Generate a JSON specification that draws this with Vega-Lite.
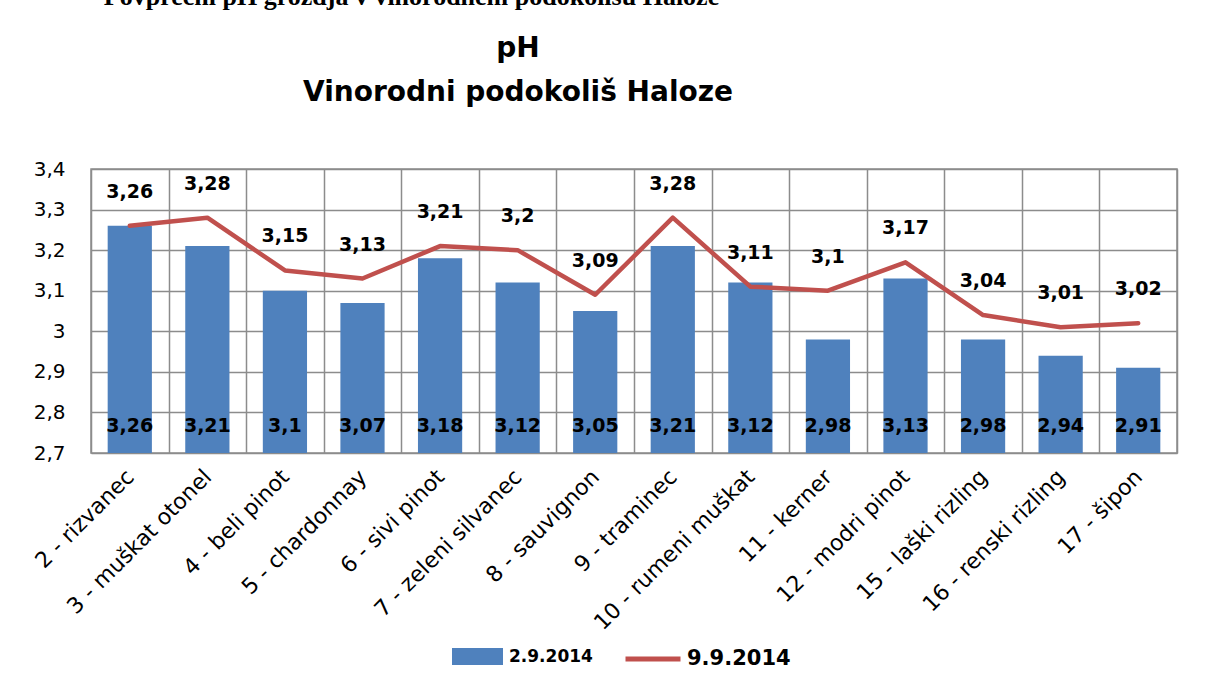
{
  "$schema": "https://vega.github.io/schema/vega-lite/v6.json",
  "width": 1086,
  "height": 284,
  "autosize": {"type": "none"},
  "padding": {"left": 91, "top": 169, "right": 31, "bottom": 239},
  "background": "white",
  "title": {
    "text": ["pH", "Vinorodni podokoliš Haloze"],
    "font": "DejaVu Sans",
    "fontSize": 28,
    "fontWeight": "bold",
    "color": "black",
    "lineHeight": 44,
    "anchor": "middle",
    "frame": "group",
    "dx": -116,
    "dy": 184,
    "offset": 60
  },
  "data": {
    "values": [
      {"sorta": "2 - rizvanec", "b": 3.26, "l": 3.26},
      {"sorta": "3 - muškat otonel", "b": 3.21, "l": 3.28},
      {"sorta": "4 - beli pinot", "b": 3.10, "l": 3.15},
      {"sorta": "5 - chardonnay", "b": 3.07, "l": 3.13},
      {"sorta": "6 - sivi pinot", "b": 3.18, "l": 3.21},
      {"sorta": "7 - zeleni silvanec", "b": 3.12, "l": 3.20},
      {"sorta": "8 - sauvignon", "b": 3.05, "l": 3.09},
      {"sorta": "9 - traminec", "b": 3.21, "l": 3.28},
      {"sorta": "10 - rumeni muškat", "b": 3.12, "l": 3.11},
      {"sorta": "11 - kerner", "b": 2.98, "l": 3.10},
      {"sorta": "12 - modri pinot", "b": 3.13, "l": 3.17},
      {"sorta": "15 - laški rizling", "b": 2.98, "l": 3.04},
      {"sorta": "16 - renski rizling", "b": 2.94, "l": 3.01},
      {"sorta": "17 - šipon", "b": 2.91, "l": 3.02}
    ]
  },
  "encoding": {
    "x": {
      "field": "sorta",
      "type": "nominal",
      "sort": null,
      "scale": {"paddingInner": 0, "paddingOuter": 0},
      "axis": {
        "title": "Povprečni pH grozdja  v vinorodnem podokolišu Haloze",
        "titleX": 320,
        "titleY": -449,
        "titleAngle": 0,
        "titleAlign": "center",
        "titleBaseline": "alphabetic",
        "titleFont": "Liberation Serif",
        "titleFontSize": 26,
        "titleFontWeight": "bold",
        "titleColor": "black",
        "labelAngle": -45,
        "labelAlign": "right",
        "labelBaseline": "middle",
        "labelPadding": 20,
        "labelFont": "DejaVu Sans",
        "labelFontSize": 22,
        "labelColor": "black",
        "labelLimit": 0,
        "labelOverlap": false,
        "ticks": false,
        "domain": false,
        "grid": true,
        "tickBand": "extent"
      }
    }
  },
  "layer": [
    {
      "mark": {"type": "bar", "width": {"band": 0.57}},
      "encoding": {
        "y": {
          "field": "b",
          "type": "quantitative",
          "stack": null,
          "scale": {"domain": [2.7, 3.4], "zero": false, "nice": false},
          "axis": {"title": null, "values": [2.7, 2.8, 2.9, 3.0, 3.1, 3.2, 3.3, 3.4], "format": "~g"}
        },
        "y2": {"datum": 2.7},
        "color": {
          "datum": "2.9.2014",
          "scale": {"range": ["#4F81BD"]},
          "legend": {
            "title": null,
            "orient": "none",
            "legendX": 361,
            "legendY": 462,
            "padding": 0,
            "symbolType": "M-1,-0.333H1V0.333H-1Z",
            "symbolSize": 2601,
            "symbolStrokeWidth": 0,
            "labelFont": "DejaVu Sans",
            "labelFontSize": 17,
            "labelFontWeight": "bold",
            "labelColor": "black",
            "labelOffset": 6
          }
        }
      }
    },
    {
      "mark": {"type": "text", "font": "DejaVu Sans", "fontSize": 19, "fontWeight": "bold", "color": "black", "baseline": "middle", "dy": -27},
      "encoding": {
        "y": {"datum": 2.7, "type": "quantitative", "axis": {"title": null, "values": [2.7, 2.8, 2.9, 3.0, 3.1, 3.2, 3.3, 3.4], "format": "~g"}},
        "text": {"field": "b", "type": "quantitative", "format": "~g"}
      }
    },
    {
      "mark": {"type": "line", "strokeWidth": 4.5, "strokeCap": "round", "strokeJoin": "round"},
      "encoding": {
        "y": {
          "field": "l",
          "type": "quantitative",
          "axis": {"title": null, "values": [2.7, 2.8, 2.9, 3.0, 3.1, 3.2, 3.3, 3.4], "format": "~g"}
        },
        "stroke": {
          "datum": "9.9.2014",
          "scale": {"range": ["#C0504D"]},
          "legend": {
            "title": null,
            "orient": "none",
            "legendX": 532,
            "legendY": 460,
            "padding": 0,
            "symbolType": "stroke",
            "symbolSize": 3025,
            "symbolStrokeWidth": 5,
            "labelFont": "DejaVu Sans",
            "labelFontSize": 21,
            "labelFontWeight": "bold",
            "labelColor": "black",
            "labelOffset": 4
          }
        }
      }
    },
    {
      "mark": {"type": "text", "font": "DejaVu Sans", "fontSize": 19, "fontWeight": "bold", "color": "black", "baseline": "middle", "dy": -34},
      "encoding": {
        "y": {"field": "l", "type": "quantitative", "axis": {"title": null, "values": [2.7, 2.8, 2.9, 3.0, 3.1, 3.2, 3.3, 3.4], "format": "~g"}},
        "text": {"field": "l", "type": "quantitative", "format": "~g"}
      }
    }
  ],
  "config": {
    "locale": {"number": {"decimal": ",", "thousands": ".", "grouping": [3], "currency": ["", " €"]}},
    "view": {"stroke": "#8c8c8c", "strokeWidth": 1.5},
    "axis": {"gridColor": "#8c8c8c", "gridWidth": 1.5, "gridOpacity": 1},
    "axisY": {
      "labelFont": "DejaVu Sans",
      "labelFontSize": 20,
      "labelColor": "black",
      "labelPadding": 26,
      "ticks": false,
      "domain": false,
      "grid": true
    }
  }
}
